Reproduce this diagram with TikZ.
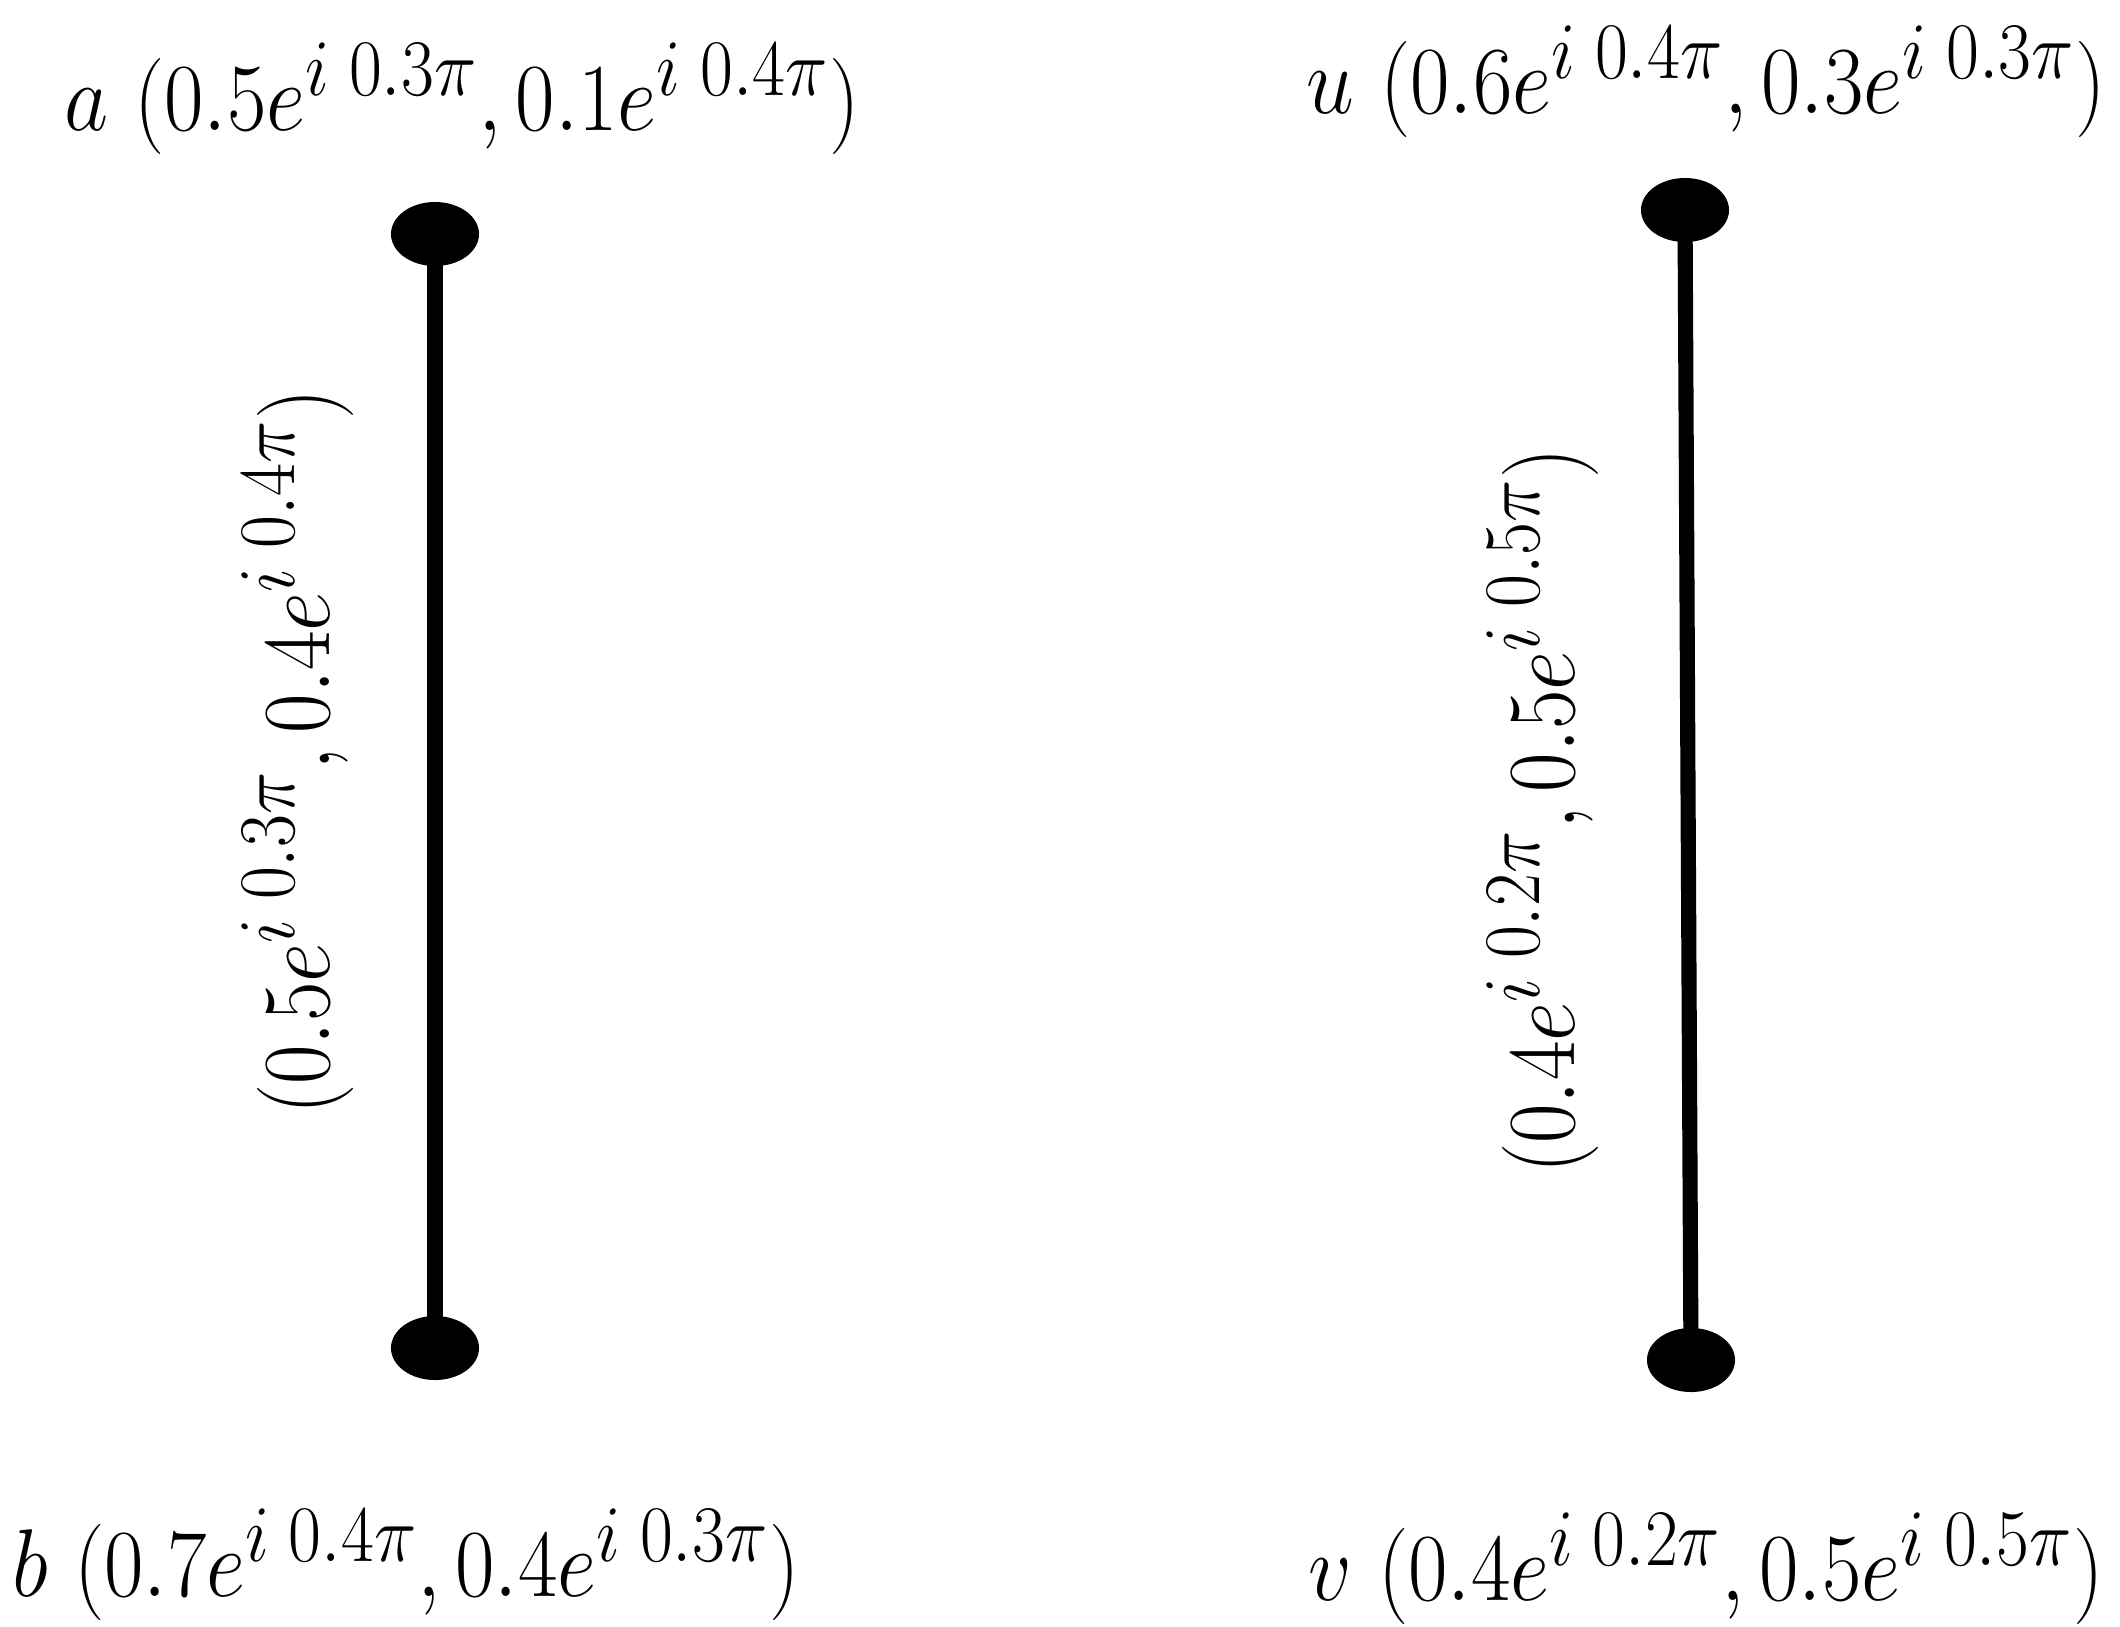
\documentclass[tikz,border=0pt]{standalone}
\usetikzlibrary{shapes.geometric}
\newcommand{\mylab}[1]{\scalebox{0.98}[1.1]{$#1$}}
\begin{document}
\begin{tikzpicture}[x=0.01cm,y=-0.01cm,
  vert/.style={ellipse,fill=black,minimum width=0.88cm,minimum height=0.64cm,inner sep=0pt},
  edgeline/.style={line width=4.3pt},
  lbl/.style={font=\Huge,inner sep=0pt}]
\useasboundingbox (0,0) rectangle (2120,1626);
\node[vert] (a) at (435,234) {};
\node[vert] (b) at (435,1348) {};
\node[vert] (u) at (1685,210) {};
\node[vert] (v) at (1691,1360) {};
\draw[edgeline] (a.center) -- (b.center);
\draw[edgeline] (u.center) -- (v.center);
\node[lbl] (la) at (462,99) {\mylab{a\ (0.5e^{i\;0.3\pi},0.1e^{i\;0.4\pi})}};
\node[lbl] (lu) at (1706,82) {\mylab{u\ (0.6e^{i\;0.4\pi},0.3e^{i\;0.3\pi})}};
\node[lbl] (lb) at (406,1565) {\mylab{b\ (0.7e^{i\;0.4\pi},0.4e^{i\;0.3\pi})}};
\node[lbl] (lv) at (1706,1569) {\mylab{v\ (0.4e^{i\;0.2\pi},0.5e^{i\;0.5\pi})}};
\node[lbl,rotate=90] (lab) at (298,752) {\mylab{(0.5e^{i\;0.3\pi},0.4e^{i\;0.4\pi})}};
\node[lbl,rotate=90] (luv) at (1543,811) {\mylab{(0.4e^{i\;0.2\pi},0.5e^{i\;0.5\pi})}};
\end{tikzpicture}
\end{document}
